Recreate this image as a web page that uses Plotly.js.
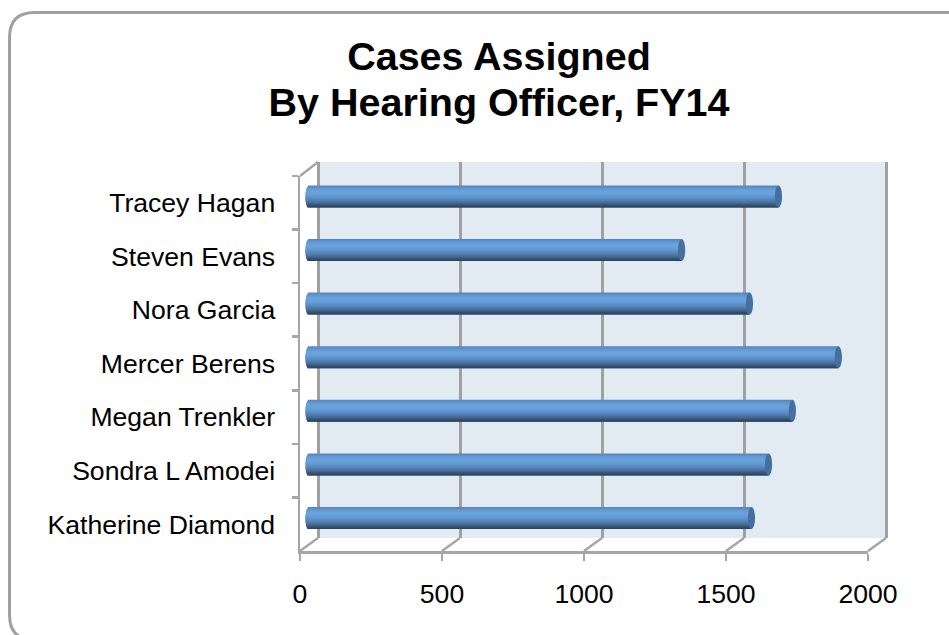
<!DOCTYPE html>
<html>
<head>
<meta charset="utf-8">
<script src="https://cdn.plot.ly/plotly-3.0.1.min.js"></script>
<style>html,body{margin:0;padding:0;background:#fff}</style>
</head>
<body>
<div id="chart" style="width:949px;height:635px"></div>
<script>
const categories = ["Katherine Diamond","Sondra L Amodei","Megan Trenkler","Mercer Berens","Nora Garcia","Steven Evans","Tracey Hagan"];
const casesAssigned = [1558,1618,1702,1864,1551,1312,1653];
const xTicks = [0,500,1000,1500,2000];
const titleLines = ["Cases Assigned","By Hearing Officer, FY14"];

const W = 949, H = 635;
const px = x => x / W;
const py = y => 1 - y / H;

// Cylinder shading, top to bottom, one colour per row of pixels
const cylinderShade = ["#5A86B8","#5C8DC4","#5F94CC","#629AD3","#659FD9","#68A2DC","#69A3DE","#68A2DC","#66A0DA","#649CD6","#6198D1","#5E93CB","#5B8DC4","#5887BC","#5581B3","#517AA9","#4C729E","#466A92","#3F5F85","#385577","#314C6B","#2C4563"];
const capColor = "#44709F";

const bandPx = 53.6, barPx = 22, capPx = 3.6, unitPx = 0.284;
const barWidth = barPx / bandPx;
const capUnits = capPx / unitPx;

const traces = [{type:"scatter",x:[],y:[],xaxis:"x",yaxis:"y",showlegend:false,hoverinfo:"skip"}];
const n = cylinderShade.length;
const rowH = barWidth/n;
cylinderShade.forEach((c,i)=>{
  const t = ((i+0.5)/n)*2-1;                     // -1 top, +1 bottom
  const inset = capUnits*(1-Math.sqrt(1-t*t));
  const base = inset - capUnits;
  const top = barWidth/2 - i*rowH;
  const h = i < n-1 ? rowH*2 : rowH;             // overlap the next row so no seam shows
  traces.push({
    type:"bar",orientation:"h",xaxis:"x2",yaxis:"y2",
    y:categories,
    x:casesAssigned.map(v=>v-base),
    base:categories.map(()=>base),
    width:h,
    offset:top-h,
    marker:{color:c,line:{width:0}},
    showlegend:false,hoverinfo:"skip"
  });
});
traces.push({type:"bar",orientation:"h",x:categories.map(()=>0),y:categories,xaxis:"x3",yaxis:"y3",showlegend:false,hoverinfo:"skip",marker:{color:"rgba(0,0,0,0)"}});

const axisGrey = "#A6A6A6";
const line = (x0,y0,x1,y1,w) => ({type:"line",xref:"paper",yref:"paper",x0:px(x0),y0:py(y0),x1:px(x1),y1:py(y1),line:{color:axisGrey,width:w||2.5}});

const shapes = [];
// Chart frame
const fl=9.5, ft=12.5, fr=975, fb=640, rad=25;
shapes.push({type:"path",xref:"paper",yref:"paper",layer:"below",
  path:`M ${px(fl)} ${py(ft+rad)} Q ${px(fl)} ${py(ft)} ${px(fl+rad)} ${py(ft)} L ${px(fr)} ${py(ft)} L ${px(fr)} ${py(fb)} L ${px(fl+rad)} ${py(fb)} Q ${px(fl)} ${py(fb)} ${px(fl)} ${py(fb-rad)} Z`,
  line:{color:"#A0A0A0",width:3},fillcolor:"#FFFFFF"});
// Back wall
shapes.push({type:"rect",xref:"paper",yref:"paper",layer:"below",x0:px(318),x1:px(886),y0:py(162),y1:py(538),fillcolor:"#E2EAF2",line:{width:0}});
// Depth edges
xTicks.forEach(v=>{
  const xf = 300 + v*568/2000;
  shapes.push(Object.assign(line(xf,551,xf+18,538),{layer:"below"}));
});
shapes.push(Object.assign(line(300,176,318,162),{layer:"below"}));
// Cylinder end caps
categories.forEach((c,i)=>{
  shapes.push({type:"circle",xref:"x2",yref:"y2",x0:casesAssigned[i]-capUnits,x1:casesAssigned[i]+capUnits,
    y0:i-barWidth/2,y1:i+barWidth/2,fillcolor:capColor,line:{width:0}});
});

// Line spacing follows title.font.size; the glyphs follow the span
const titleText = titleLines.map(s=>`<span style="font-size:39.5px">${s}</span>`).join("<br>");

const layout = {
  width:W,height:H,
  margin:{l:0,r:0,t:0,b:0},
  paper_bgcolor:"#FFFFFF",plot_bgcolor:"rgba(0,0,0,0)",
  showlegend:false,barmode:"overlay",
  font:{family:"Liberation Sans, Arial, sans-serif",color:"#000000",size:26.6},
  title:{text:titleText,x:px(499),xanchor:"center",y:0.89,yanchor:"top",yref:"container",
    font:{family:"Liberation Sans, Arial, sans-serif",size:35.5,color:"#000000",weight:"bold"}},
  // Back wall gridlines: the range runs slightly past 0 and 2000 so the end lines are kept
  xaxis:{domain:[px(314),px(890)],range:[-4*2000/568,2000+4*2000/568],tickvals:xTicks,showgrid:true,gridcolor:"#A0A0A0",gridwidth:3,
    zeroline:false,showticklabels:false,ticks:"",showline:false,anchor:"y",fixedrange:true},
  yaxis:{domain:[py(538),py(162)],range:[0,1],visible:false,anchor:"x",fixedrange:true},
  // Mid-depth plane holding the bars
  xaxis2:{domain:[px(300),px(886)],range:[(300-309)/unitPx,(886-309)/unitPx],visible:false,anchor:"y2",fixedrange:true},
  yaxis2:{domain:[py(551),py(162)],type:"category",categoryorder:"array",categoryarray:categories,
    range:[(518-551)/bandPx,(518-162)/bandPx],visible:false,anchor:"x2",fixedrange:true},
  // Front axes with ticks and labels
  xaxis3:{domain:[px(300),px(868)],range:[0,2000],tickvals:xTicks,ticktext:xTicks.map(String),showgrid:false,zeroline:false,
    showline:true,linecolor:axisGrey,linewidth:2.5,ticks:"outside",ticklen:7,tickwidth:2.5,tickcolor:axisGrey,
    ticklabelstandoff:11,tickfont:{size:26.6},anchor:"y3",fixedrange:true},
  yaxis3:{domain:[py(551),py(176)],type:"category",categoryorder:"array",categoryarray:categories,range:[-0.5,6.5],
    tickson:"boundaries",showgrid:false,zeroline:false,showline:true,linecolor:axisGrey,linewidth:2.5,
    ticks:"outside",ticklen:6,tickwidth:2.5,tickcolor:axisGrey,ticklabelstandoff:17,tickfont:{size:26.6},anchor:"x3",fixedrange:true},
  shapes:shapes
};
Plotly.newPlot("chart",traces,layout,{displayModeBar:false,staticPlot:true});
</script>
</body>
</html>
